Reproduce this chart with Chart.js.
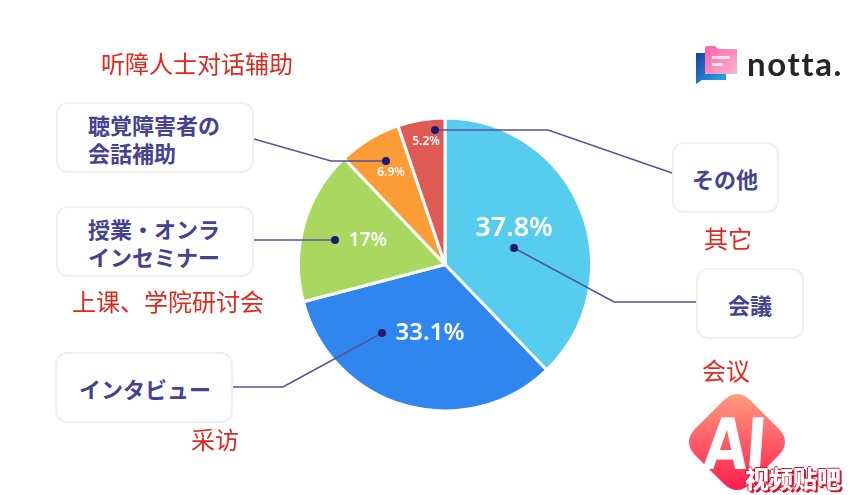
<!DOCTYPE html>
<html>
<head>
<meta charset="utf-8">
<script src="https://cdn.jsdelivr.net/npm/chart.js@4"></script>
<style>
html,body{margin:0;padding:0;background:#fff;width:867px;height:495px;overflow:hidden}
#wrap{position:relative;width:867px;height:495px}
#pie{position:absolute;left:0;top:0}
.box{position:absolute;box-sizing:border-box;background:#fff;border:2px solid #f0f0f4;border-radius:12px;
  font:700 22px/28px "Noto Sans CJK JP";color:#45428f;display:flex;align-items:center;white-space:pre}
.red{position:absolute;font:400 24px/30px "Noto Sans CJK SC";color:#e0281c;white-space:nowrap}
#logo{position:absolute;left:690px;top:40px}
#notta{position:absolute;left:747px;top:41px;font:700 33px/44px Lato;color:#262626;letter-spacing:1.6px}
#ai{position:absolute;left:684px;top:389px}
#aiText{position:absolute;left:704px;top:403px;font:900 71px/84px "DejaVu Sans";color:#fff;letter-spacing:-3px;transform:scaleX(.8) skewX(-5deg);transform-origin:left}
#tieba{position:absolute;left:745px;top:464px;font:900 24px/28px "Noto Sans CJK SC";color:#fff;white-space:nowrap;text-shadow:1px 1px 0 #d8102c,-1px 0 0 #d8102c,0 -1px 0 #d8102c,2px 2px 0 #d8102c}
</style>
</head>
<body>
<div id="wrap">
  <canvas id="pie" width="867" height="495"></canvas>

  <div class="red" style="left:101px;top:48px">听障人士对话辅助</div>
  <div class="red" style="left:72px;top:286px">上课、学院研讨会</div>
  <div class="red" style="left:191px;top:424px">采访</div>
  <div class="red" style="left:704px;top:223px">其它</div>
  <div class="red" style="left:702px;top:355px">会议</div>

  <div class="box" style="left:56px;top:102px;width:198px;height:71px;padding-left:30px">聴覚障害者の
会話補助</div>
  <div class="box" style="left:56px;top:206px;width:198px;height:71px;padding-left:30px">授業・オンラ
インセミナー</div>
  <div class="box" style="left:55px;top:352px;width:178px;height:71px;padding-left:22px">インタビュー</div>
  <div class="box" style="left:672px;top:142px;width:107px;height:71px;padding-left:18px">その他</div>
  <div class="box" style="left:696px;top:268px;width:108px;height:71px;padding-left:30px">会議</div>

  <svg id="logo" width="54" height="50" viewBox="0 0 54 50">
    <defs>
      <linearGradient id="lb" x1="0" y1="0" x2="1" y2="1"><stop offset="0" stop-color="#1b3fa8"/><stop offset="1" stop-color="#21b5ea"/></linearGradient>
      <linearGradient id="lp" x1="0" y1="0" x2="1" y2="1"><stop offset="0" stop-color="#ff5fa8"/><stop offset="1" stop-color="#fcb6d0"/></linearGradient>
    </defs>
    <path d="M6 13H36V40H12L6 44Z" fill="url(#lb)"/>
    <path d="M15 8Q15 6 18 6H25L28 9H47V34H15Z" fill="url(#lp)"/>
    <rect x="22" y="16" width="18" height="3" fill="#fde3ee"/>
    <rect x="22" y="23" width="11" height="3" fill="#fde3ee"/>
  </svg>
  <div id="notta">notta.</div>

  <svg id="ai" width="106" height="106" viewBox="0 0 106 106">
    <defs>
      <linearGradient id="ag" x1="0" y1="0" x2="0" y2="1"><stop offset="0" stop-color="#ff9c80"/><stop offset="1" stop-color="#ff1c4e"/></linearGradient>
    </defs>
    <path d="M40 11Q53 -1 66 11L95 40Q107 53 95 66L66 95Q53 107 40 95L11 66Q-1 53 11 40Z" fill="url(#ag)"/>
  </svg>
  <div id="aiText">AI</div>
  <div id="tieba">视频贴吧</div>
</div>

<script>
const categories = ['会議', 'インタビュー', '授業・オンラインセミナー', '聴覚障害者の会話補助', 'その他'];
const shares = [37.8, 33.1, 17, 6.9, 5.2];
const sliceColors = ['#56cdee', '#2f86ee', '#a8d85f', '#fb9c36', '#e05a55'];

// where the percent text sits, same order as shares
const labelSpots = [
    {x: 514, y: 228, size: 27},
    {x: 430, y: 333, size: 24},
    {x: 368, y: 241, size: 19},
    {x: 391, y: 173, size: 12},
    {x: 426, y: 142, size: 12}
];

// leader lines from the dot on the slice out to its box
const leaders = [
    [[514, 248], [614, 302], [696, 302]],
    [[382, 333], [283, 387], [233, 387]],
    [[335, 240], [254, 240]],
    [[386, 161], [331, 161], [254, 139]],
    [[435, 130], [548, 130], [672, 173]]
];

const annotatePlugin = {
    id: 'annotate',
    afterDatasetsDraw(chart) {
        const ctx = chart.ctx;
        ctx.save();
        ctx.textAlign = 'center';
        ctx.textBaseline = 'middle';
        ctx.fillStyle = '#fff';
        shares.forEach((v, i) => {
            const s = labelSpots[i];
            ctx.font = `600 ${s.size}px "Noto Sans"`;
            ctx.fillText(v + '%', s.x, s.y);
        });
        leaders.forEach(pts => {
            ctx.strokeStyle = '#57529c';
            ctx.lineWidth = 1.6;
            ctx.beginPath();
            pts.forEach((p, j) => j ? ctx.lineTo(p[0], p[1]) : ctx.moveTo(p[0], p[1]));
            ctx.stroke();
            ctx.fillStyle = '#1e1a6e';
            ctx.beginPath();
            ctx.arc(pts[0][0], pts[0][1], 4, 0, Math.PI * 2);
            ctx.fill();
        });
        ctx.restore();
    }
};

new Chart(document.getElementById('pie'), {
    type: 'pie',
    data: {
        labels: categories,
        datasets: [{
            data: shares,
            backgroundColor: sliceColors,
            borderColor: '#fff',
            borderWidth: 3
        }]
    },
    options: {
        responsive: false,
        animation: false,
        layout: {padding: {left: 297, right: 274, top: 116, bottom: 82}},
        plugins: {legend: {display: false}, tooltip: {enabled: false}}
    },
    plugins: [annotatePlugin]
});
</script>
</body>
</html>
